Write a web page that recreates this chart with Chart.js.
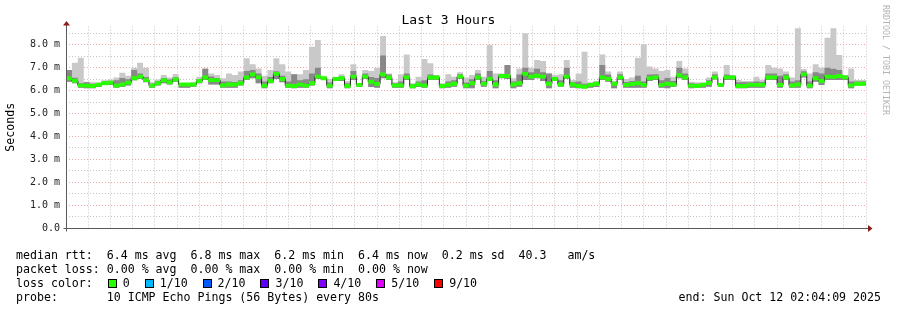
<!DOCTYPE html>
<html>
<head>
<meta charset="utf-8">
<title>Last 3 Hours</title>
<script src="https://cdn.jsdelivr.net/npm/chart.js@4.4.1/dist/chart.umd.min.js"></script>
<style>
  body { margin: 0; background: #fff; }
  #graph { position: relative; width: 897px; height: 310px; overflow: hidden;
           font-family: "DejaVu Sans Mono", monospace; color: #000; }
  #graph canvas { position: absolute; left: 0; top: 0; }
  .title { position: absolute; left: 0; width: 897px; top: 12px; text-align: center; font-size: 13px; }
  .txt { position: absolute; left: 16px; font-size: 11.6px; line-height: 14px; white-space: pre; }
  .end { left: auto; right: 16px; }
  .sq { display: inline-block; width: 7px; height: 7px; border: 1px solid #000; margin: 0 6px 0 1px; vertical-align: -1px; }
  .vendor { position: absolute; left: 881px; top: 5px; writing-mode: vertical-rl; font-size: 8.3px; color: #b4b4b4; }
</style>
</head>
<body>
<div id="graph">
  <canvas id="chart" width="897" height="310"></canvas>
  <div class="title">Last 3 Hours</div>
  <div class="vendor">RRDTOOL / TOBI OETIKER</div>
  <div class="txt" style="top:248px">median rtt:  6.4 ms avg  6.8 ms max  6.2 ms min  6.4 ms now  0.2 ms sd  40.3   am/s</div>
  <div class="txt" style="top:262px">packet loss: 0.00 % avg  0.00 % max  0.00 % min  0.00 % now</div>
  <div class="txt" id="lossLine" style="top:276px">loss color:  </div>
  <div class="txt" style="top:290px">probe:       10 ICMP Echo Pings (56 Bytes) every 80s</div>
  <div class="txt end" style="top:290px">end: Sun Oct 12 02:04:09 2025</div>
</div>
<script>
// time axis: seconds after 23:00:00, one sample every 80 s
const startSec = 249;
const stepSec = 80;

// median rtt per step (ms)
const medianRtt = [
  6.54, 6.43, 6.23, 6.22, 6.20, 6.26, 6.32, 6.35, 6.22, 6.27,
  6.35, 6.54, 6.61, 6.46, 6.22, 6.32, 6.45, 6.36, 6.49, 6.27,
  6.27, 6.27, 6.42, 6.57, 6.46, 6.46, 6.23, 6.27, 6.27, 6.32,
  6.57, 6.71, 6.58, 6.22, 6.43, 6.73, 6.51, 6.22, 6.20, 6.26,
  6.22, 6.32, 6.61, 6.54, 6.22, 6.51, 6.54, 6.20, 6.61, 6.25,
  6.61, 6.39, 6.30, 6.71, 6.57, 6.23, 6.23, 6.58, 6.19, 6.27,
  6.22, 6.57, 6.57, 6.20, 6.25, 6.30, 6.61, 6.22, 6.32, 6.57,
  6.30, 6.51, 6.27, 6.64, 6.64, 6.27, 6.32, 6.73, 6.61, 6.65,
  6.61, 6.30, 6.51, 6.27, 6.61, 6.27, 6.20, 6.17, 6.25, 6.30,
  6.58, 6.51, 6.30, 6.58, 6.25, 6.29, 6.32, 6.25, 6.54, 6.58,
  6.25, 6.30, 6.27, 6.67, 6.57, 6.22, 6.20, 6.25, 6.33, 6.58,
  6.25, 6.58, 6.58, 6.20, 6.20, 6.25, 6.25, 6.25, 6.57, 6.58,
  6.25, 6.57, 6.23, 6.27, 6.71, 6.22, 6.54, 6.42, 6.61, 6.60,
  6.64, 6.58, 6.23, 6.30, 6.30
];

// slowest ping per step (ms)
const pingMax = [
  6.90, 7.22, 7.44, 6.39, 6.36, 6.35, 6.45, 6.49, 6.57, 6.78,
  6.65, 7.00, 7.22, 7.00, 6.36, 6.49, 6.68, 6.57, 6.73, 6.32,
  6.32, 6.36, 6.61, 6.97, 6.75, 6.68, 6.54, 6.75, 6.68, 6.83,
  7.41, 7.15, 6.97, 6.65, 6.90, 7.41, 7.15, 6.83, 6.71, 6.71,
  6.90, 7.92, 8.21, 6.61, 6.51, 6.61, 6.71, 6.42, 7.15, 6.32,
  6.90, 6.86, 7.00, 8.38, 6.75, 6.36, 6.71, 7.58, 6.32, 6.61,
  7.38, 7.19, 6.68, 6.32, 6.71, 6.61, 6.80, 6.57, 6.68, 6.90,
  6.61, 7.99, 6.75, 6.75, 7.12, 6.54, 6.97, 8.50, 7.00, 7.34,
  7.29, 6.75, 6.68, 6.71, 7.34, 6.46, 6.75, 7.70, 6.36, 6.42,
  7.58, 6.83, 6.42, 6.83, 6.51, 6.57, 7.44, 8.02, 7.05, 6.97,
  6.86, 6.90, 6.61, 7.29, 6.97, 6.39, 6.36, 6.36, 6.57, 6.83,
  6.32, 7.12, 6.68, 6.46, 6.42, 6.42, 6.61, 6.46, 7.12, 7.00,
  6.97, 6.83, 6.57, 8.72, 6.94, 6.75, 7.15, 7.00, 8.31, 8.72,
  7.56, 6.68, 6.97, 6.46, 6.46
];

// upper edge of the dense part of the smoke (ms)
const pingMid = [
  6.90, 6.56, 6.32, 6.36, 6.30, 6.32, 6.40, 6.42, 6.45, 6.55,
  6.50, 6.90, 6.75, 6.60, 6.30, 6.42, 6.55, 6.48, 6.58, 6.30,
  6.30, 6.32, 6.50, 6.95, 6.62, 6.55, 6.40, 6.40, 6.38, 6.45,
  6.86, 6.90, 6.75, 6.40, 6.60, 6.85, 6.65, 6.40, 6.71, 6.45,
  6.50, 6.75, 7.00, 6.58, 6.35, 6.58, 6.62, 6.32, 6.86, 6.30,
  6.75, 6.60, 6.55, 7.53, 6.70, 6.32, 6.40, 6.75, 6.28, 6.40,
  6.45, 6.70, 6.65, 6.28, 6.40, 6.45, 6.72, 6.35, 6.50, 6.75,
  6.42, 6.86, 6.45, 6.72, 7.12, 6.40, 6.70, 7.00, 6.80, 6.95,
  6.80, 6.75, 6.60, 6.45, 7.00, 6.38, 6.40, 6.30, 6.32, 6.38,
  7.12, 6.70, 6.38, 6.72, 6.38, 6.42, 6.65, 6.40, 6.70, 6.72,
  6.45, 6.55, 6.42, 7.00, 6.75, 6.32, 6.30, 6.32, 6.45, 6.72,
  6.30, 6.70, 6.65, 6.36, 6.36, 6.36, 6.40, 6.38, 6.75, 6.75,
  6.65, 6.72, 6.40, 6.45, 6.85, 6.40, 6.80, 6.75, 7.00, 6.95,
  6.90, 6.65, 6.40, 6.40, 6.40
];

// fastest ping per step (ms)
const pingMin = [
  6.39, 6.32, 6.13, 6.10, 6.10, 6.16, 6.25, 6.25, 6.13, 6.16,
  6.22, 6.45, 6.51, 6.36, 6.13, 6.22, 6.32, 6.27, 6.39, 6.13,
  6.13, 6.17, 6.32, 6.46, 6.27, 6.27, 6.13, 6.13, 6.13, 6.22,
  6.46, 6.54, 6.32, 6.10, 6.32, 6.51, 6.36, 6.13, 6.10, 6.13,
  6.13, 6.22, 6.51, 6.46, 6.10, 6.42, 6.42, 6.10, 6.46, 6.17,
  6.51, 6.16, 6.13, 6.54, 6.46, 6.13, 6.13, 6.46, 6.10, 6.16,
  6.13, 6.46, 6.46, 6.10, 6.13, 6.17, 6.51, 6.10, 6.10, 6.46,
  6.17, 6.42, 6.10, 6.54, 6.51, 6.10, 6.17, 6.46, 6.46, 6.54,
  6.42, 6.10, 6.42, 6.17, 6.51, 6.13, 6.10, 6.10, 6.13, 6.16,
  6.46, 6.39, 6.10, 6.46, 6.13, 6.13, 6.13, 6.13, 6.42, 6.46,
  6.13, 6.10, 6.16, 6.54, 6.46, 6.10, 6.13, 6.13, 6.17, 6.49,
  6.17, 6.46, 6.46, 6.10, 6.10, 6.13, 6.13, 6.13, 6.46, 6.46,
  6.13, 6.46, 6.13, 6.13, 6.57, 6.10, 6.39, 6.25, 6.46, 6.46,
  6.46, 6.46, 6.10, 6.22, 6.22
];

const xTickLabels = ['23:20', '23:40', '00:00', '00:20', '00:40', '01:00', '01:20', '01:40', '02:00'];
const yTickLabels = ['0.0', '1.0 m', '2.0 m', '3.0 m', '4.0 m', '5.0 m', '6.0 m', '7.0 m', '8.0 m'];

const lossLabels = ['0', '1/10', '2/10', '3/10', '4/10', '5/10', '9/10'];
const lossColors = ['#26ff00', '#00b8ff', '#0059ff', '#5e00ff', '#7e00ff', '#dd00ff', '#ff0000'];

const majorGrid = 'rgba(235, 110, 110, 0.6)';
const minorGrid = '#c4c4c4';
const bandHalf = 0.085; // half height of the loss-colored median band

// loss color legend
const lossLine = document.getElementById('lossLine');
lossLabels.forEach((label, i) => {
  const sq = document.createElement('span');
  sq.className = 'sq';
  sq.style.background = lossColors[i];
  lossLine.appendChild(sq);
  lossLine.appendChild(document.createTextNode(label + '  '));
});

function toSteps(values) {
  const pts = values.map((v, i) => ({ x: startSec + i * stepSec, y: v }));
  pts.push({ x: startSec + values.length * stepSec, y: values[values.length - 1] });
  return pts;
}

function stepLine(values, extra) {
  return Object.assign({
    data: toSteps(values),
    stepped: true,
    borderWidth: 0,
    pointRadius: 0,
    fill: false
  }, extra);
}

// axes arrows like rrdtool
const rrdAxes = {
  id: 'rrdAxes',
  afterDraw(chart) {
    const { ctx, chartArea: a } = chart;
    const lx = Math.round(a.left) + 0.5;
    const by = Math.round(a.bottom) + 0.5;
    ctx.save();
    ctx.strokeStyle = '#5a5a5a';
    ctx.lineWidth = 1;
    ctx.beginPath();
    ctx.moveTo(lx, by + 3);
    ctx.lineTo(lx, a.top - 3);
    ctx.moveTo(lx - 3, by);
    ctx.lineTo(a.right + 3, by);
    ctx.stroke();
    ctx.fillStyle = '#8c1c1c';
    ctx.beginPath();
    ctx.moveTo(lx - 3.5, a.top - 1);
    ctx.lineTo(lx + 3.5, a.top - 1);
    ctx.lineTo(lx, a.top - 5.5);
    ctx.closePath();
    ctx.fill();
    ctx.beginPath();
    ctx.moveTo(a.right + 2, by - 3.5);
    ctx.lineTo(a.right + 2, by + 3.5);
    ctx.lineTo(a.right + 6.5, by);
    ctx.closePath();
    ctx.fill();
    ctx.restore();
  }
};

Chart.defaults.font.family = '"DejaVu Sans Mono", monospace';

new Chart(document.getElementById('chart'), {
  type: 'line',
  data: {
    datasets: [
      stepLine(medianRtt.map(v => v + bandHalf), { fill: 1, backgroundColor: lossColors[0] }),
      stepLine(medianRtt.map(v => v - bandHalf)),
      stepLine(medianRtt, { borderWidth: 1, borderColor: '#202020' }),
      stepLine(pingMid, { fill: 5, backgroundColor: '#888888' }),
      stepLine(pingMax, { fill: 5, backgroundColor: '#c9c9c9' }),
      stepLine(pingMin)
    ]
  },
  options: {
    responsive: false,
    animation: false,
    events: [],
    layout: { padding: { top: 26.5, right: 31, left: 0, bottom: 0 } },
    plugins: { legend: { display: false }, tooltip: { enabled: false } },
    scales: {
      x: {
        type: 'linear',
        min: startSec,
        max: startSec + medianRtt.length * stepSec,
        grid: {
          color: c => (c.tick && c.tick.value % 1200 === 0) ? majorGrid : minorGrid,
          drawTicks: false
        },
        border: { display: false, dash: [1, 2] },
        ticks: {
          stepSize: 300,
          includeBounds: false,
          autoSkip: false,
          maxRotation: 0,
          padding: 5,
          color: '#222',
          font: { size: 10 },
          callback: v => v % 1200 === 0 ? xTickLabels[v / 1200 - 1] : ''
        },
        afterFit: s => { s.height = 82; }
      },
      y: {
        min: 0,
        max: 8.8,
        grid: {
          color: c => (c.tick && c.tick.value % 1 === 0) ? majorGrid : minorGrid,
          drawTicks: false
        },
        border: { display: false, dash: [1, 2] },
        ticks: {
          stepSize: 0.5,
          includeBounds: false,
          autoSkip: false,
          padding: 6,
          color: '#222',
          font: { size: 10 },
          callback: v => v % 1 === 0 ? yTickLabels[v] : ''
        },
        title: {
          display: true,
          text: 'Seconds',
          color: '#000',
          font: { size: 11.6 },
          padding: { top: 4, bottom: 0 }
        },
        afterFit: s => { s.width = 66; }
      }
    }
  },
  plugins: [rrdAxes]
});
</script>
</body>
</html>
